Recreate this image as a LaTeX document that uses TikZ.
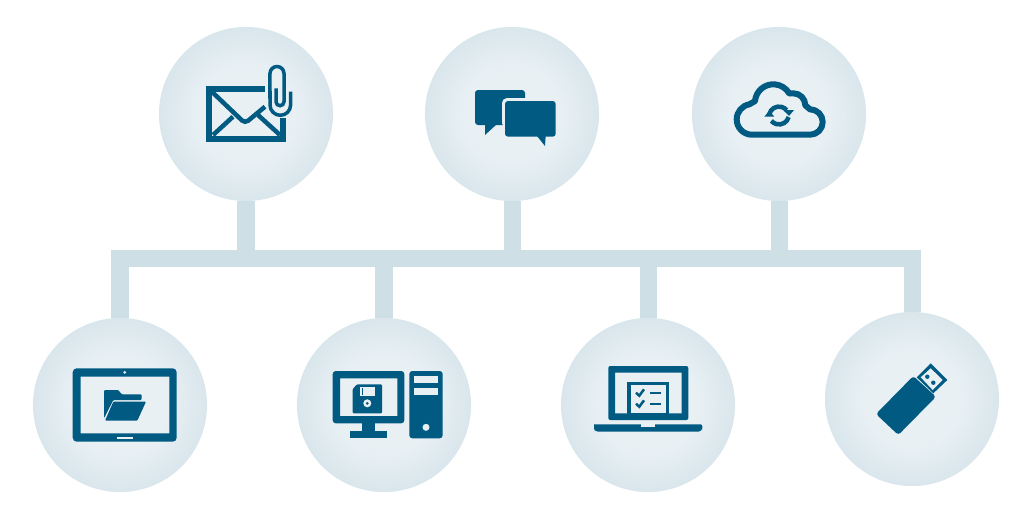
\documentclass[tikz,border=0pt]{standalone}
\usepackage{xcolor}
\definecolor{hubinner}{HTML}{E8F0F4}
\definecolor{hubouter}{HTML}{D9E6EC}
\definecolor{barcolor}{HTML}{CFDFE6}
\definecolor{iconblue}{HTML}{005A82}
\pgfdeclareradialshading{hubshade}{\pgfpoint{0bp}{0bp}}{color(0bp)=(hubinner); color(14bp)=(hubinner); color(25bp)=(hubouter); color(50bp)=(hubouter)}
\tikzset{
	hub/.style={circle,minimum size=1.74cm,inner sep=0pt,outer sep=0pt,shading=hubshade},
	bar/.style={draw=barcolor,line width=.17cm,miter limit=10},
	icon/.style={fill=iconblue,draw=none},
	hole/.style={fill=hubinner,draw=none},
	iconline/.style={draw=iconblue,line width=#1,fill=none},
	iconline/.default=.06cm
}

\begin{document}
\begin{tikzpicture}[x=.01cm,y=.01cm]
		\useasboundingbox (0,0) rectangle (1024,520);

		\node[hub] (mail) at (246,406) {};
		\node[hub] (chat) at (512,406) {};
		\node[hub] (cloud) at (779,406) {};
		\node[hub] (tablet) at (120,115) {};
		\node[hub] (desktop) at (384,115) {};
		\node[hub] (laptop) at (648,115) {};
		\node[hub] (stick) at (912,121) {};

		% Bars
		\coordinate (bus) at (512,261.5);
		\draw[bar] (tablet) -- (tablet |- bus) -- (stick |- bus) -- (stick);
		\draw[bar] (mail) -- (mail |- bus);
		\draw[bar] (chat) -- (chat |- bus);
		\draw[bar] (cloud) -- (cloud |- bus);
		\draw[bar] (desktop) -- (desktop |- bus);
		\draw[bar] (laptop) -- (laptop |- bus);

		% Envelope with clip
		\begin{scope}[shift={(mail)}]
			\draw[iconline,line cap=butt] (19,25) -- (-37,25) -- (-37,-25) -- (37,-25) -- (37,-4);
			\draw[iconline=.045cm,rounded corners=.04cm] (-37,25) -- (-1,-9.3) -- (19,7.3);
			\draw[iconline=.045cm] (-33,-21) -- (-13,-2.7);
			\draw[iconline=.045cm] (12,-1) -- (34,-21);
			\draw[iconline=.035cm] (30,25.7) -- (30,12.3) arc[start angle=180,end angle=360,radius=.04cm]
				-- (38,40.5) arc[start angle=0,end angle=180,radius=.07cm]
				-- (24,9) arc[start angle=180,end angle=360,radius=.103cm] -- (44.6,22.3);
		\end{scope}

		% Speech bubbles
		\begin{scope}[shift={(chat)}]
			\fill[icon,rounded corners=.03cm] (-37,24) rectangle (13,-11);
			\fill[icon] (-27,-10) -- (-27,-21) -- (-15,-10) -- cycle;
			\fill[hole,rounded corners=.05cm] (-10,16) rectangle (20,-14);
			\fill[icon,rounded corners=.03cm] (-7,13) rectangle (43.7,-22.7);
			\fill[icon] (24.7,-21.7) -- (33,-32) -- (33.7,-21.7) -- cycle;
		\end{scope}

		% Cloud
		\begin{scope}[shift={(cloud)}]
			\draw[iconline,line join=round] (-27,-20.7) arc[start angle=270,end angle=100,radius=.153cm]
				-- (-24,12.9) arc[start angle=175,end angle=30,radius=.184cm]
				-- (14.3,20.7) arc[start angle=90,end angle=0,radius=.12cm]
				-- (31,4.7) arc[start angle=90,end angle=-90,radius=.127cm] -- cycle;
			\draw[iconline=.045cm] (-9.7,0) arc[start angle=165,end angle=40,radius=.1cm];
			\fill[icon] (4.3,4) -- (15,4) -- (10,-2) -- cycle;
			\draw[iconline=.045cm] (9.7,-3) arc[start angle=-15,end angle=-140,radius=.1cm];
			\fill[icon] (-14.7,-2.7) -- (-4.7,-2.7) -- (-9.7,3.3) -- cycle;
		\end{scope}

		% Tablet with folder
		\begin{scope}[shift={(tablet)}]
			\fill[icon,even odd rule,rounded corners=.04cm] (-47.3,36.7) rectangle (56.7,-36.7)
				[sharp corners] (-39.3,28.3) rectangle (49.3,-28.3);
			\fill[hole] (4.7,32.7) circle[radius=.015cm];
			\fill[hole] (-2.7,-31.7) rectangle (12.7,-33.7);
			\fill[icon,rounded corners=.01cm] (-16,15) -- (-1.7,15) -- (1.7,10.7) -- (21.7,10.7) -- (21.7,5) -- (-6.7,5) -- (-16,-13.3) -- cycle;
			\fill[icon,rounded corners=.01cm] (-6.7,3.3) -- (26,3.3) -- (17.3,-15.7) -- (-15,-15.7) -- cycle;
		\end{scope}

		% Monitor and tower
		\begin{scope}[shift={(desktop)}]
			\fill[icon,even odd rule,rounded corners=.03cm] (-51.3,34) rectangle (20.3,-18.3)
				[sharp corners] (-44,26.7) rectangle (13.3,-11);
			\fill[icon] (-22.3,-18) rectangle (-9,-26);
			\fill[icon] (-34,-25.7) rectangle (2.7,-33.3);
			\fill[icon,rounded corners=.01cm] (-27,20.7) -- (-2,20.7) -- (-2,-8.3) -- (-31.3,-8.3) -- (-31.3,16) -- cycle;
			\fill[hole] (-24,17.7) rectangle (-9,9);
			\fill[icon] (-22.3,16.7) rectangle (-20.7,10);
			\fill[hole] (-16.7,1.7) circle[radius=.04cm];
			\fill[icon] (-16.7,1.7) circle[radius=.015cm];
			\fill[icon,rounded corners=.03cm] (25.3,34) rectangle (58.7,-33.3);
			\fill[hole] (30,29) rectangle (54.3,21.7);
			\fill[hole] (30,17.3) rectangle (54.3,10);
			\fill[hole] (42,-22.3) circle[radius=.035cm];
		\end{scope}

		% Laptop with list
		\begin{scope}[shift={(laptop)}]
			\fill[icon,even odd rule,rounded corners=.02cm] (-39.7,39) rectangle (40.3,-15)
				[sharp corners] (-33,32.3) rectangle (33.7,-8.3);
			\fill[icon] (-20.7,23.3) rectangle (21,-9);
			\fill[hole] (-17.3,20) rectangle (18,-8.3);
			\draw[iconline=.025cm] (-12,12.3) -- (-8.7,9.3) -- (-4,15.7);
			\draw[iconline=.025cm] (-12,1.3) -- (-8.7,-1.7) -- (-4,4.7);
			\draw[iconline=.02cm] (2,12.3) -- (13,12.3);
			\draw[iconline=.02cm] (2,1.3) -- (13,1.3);
			\fill[icon,rounded corners=.02cm] (-54,-19.3) -- (54.3,-19.3) -- (54.3,-23) [rounded corners=.04cm] -- (54.3,-26.7) -- (-54,-26.7) -- (-54,-23) [sharp corners] -- cycle;
			\fill[hole] (-7,-19.3) rectangle (7,-22.3);
		\end{scope}

		% USB stick
		\begin{scope}[shift={(stick)}]
			\fill[icon] (4.7,21.7) -- (18.7,35.7) -- (35.3,19) -- (21.3,5.7) -- cycle;
			\fill[hole] (8.7,21.7) -- (18.7,30.7) -- (30.7,19) -- (20.7,9) -- cycle;
			\fill[icon] (15.3,22.3) circle[radius=.022cm];
			\fill[icon] (21.3,16.3) circle[radius=.022cm];
			\fill[icon,rounded corners=.03cm] (-36,-15) -- (1.3,23) -- (24,2.3) -- (-13.7,-36) -- cycle;
		\end{scope}
	\end{tikzpicture}
\end{document}
